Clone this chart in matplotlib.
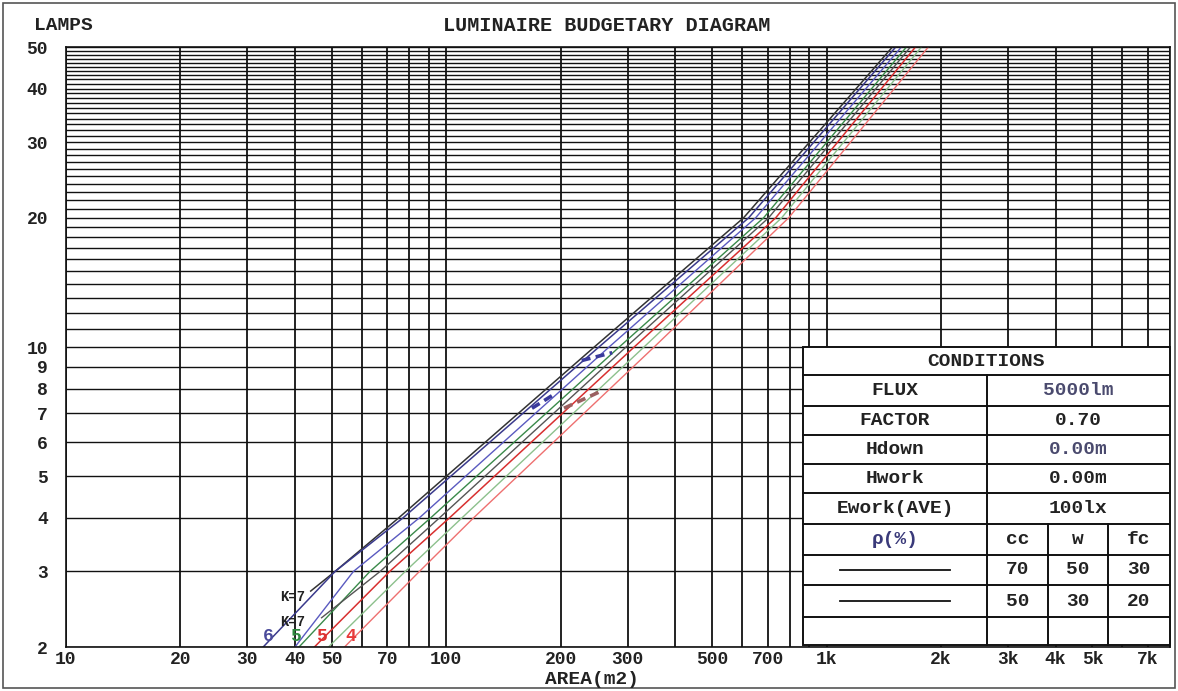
import numpy as np
import matplotlib.pyplot as plt
from matplotlib.patches import Rectangle
from matplotlib.ticker import FixedLocator, FixedFormatter, NullLocator

MONO = ['Liberation Mono', 'DejaVu Sans Mono']

# lamp count read at the points of each curve, and the area where each curve passes it
lamps_std = [2, 3, 4, 10, 20, 50]
area_black = [44, 51, 75, 245, 605, 1490]
lamps_black = [2.7, 3, 4, 10, 20, 50]
area_navy = [33, 51, 77, 252, 624, 1520]
area_blue = [40, 57, 85, 268, 651, 1573]
area_green = [41, 63, 91, 285, 683, 1622]
area_gray = [47, 67, 96, 297, 704, 1662]
lamps_gray = [2.34, 3, 4, 10, 20, 50]
area_red = [45, 71, 102, 312, 735, 1713]
area_lgreen = [49, 78, 110, 331, 762, 1776]
area_salmon = [54, 85, 118, 352, 795, 1852]

# short heavy dash marks printed over the curves
dash_navy_a = [[168, 194], [227, 273]]
dash_navy_n = [[7.2, 7.8], [9.3, 9.7]]
dash_brown_a = [204, 252]
dash_brown_n = [7.2, 7.85]

x_grid = [10, 20, 30, 40, 50, 60, 70, 80, 90,
          100, 200, 300, 400, 500, 600, 700, 800, 900,
          1000, 2000, 3000, 4000, 5000, 6000, 7000, 8000]
x_labels = {10: '10', 20: '20', 30: '30', 40: '40', 50: '50', 70: '70',
            100: '100', 200: '200', 300: '300', 500: '500', 700: '700',
            1000: '1k', 2000: '2k', 3000: '3k', 4000: '4k', 5000: '5k', 7000: '7k'}
y_grid = list(range(2, 51))
y_labels = [2, 3, 4, 5, 6, 7, 8, 9, 10, 20, 30, 40, 50]

# curve labels near the bottom: (text, area, lamps, colour)
curve_tags = [('6', 34, 2.12, '#4a4a9a'), ('5', 40, 2.12, '#2e8b3e'),
              ('5', 47, 2.12, '#dd3030'), ('4', 56, 2.12, '#e83a3a'),
              ('K=7', 39.5, 2.62, '#222222'), ('K=7', 39.5, 2.29, '#222222')]

cond_names = ['FLUX', 'FACTOR', 'Hdown', 'Hwork', 'Ework(AVE)']
cond_values = ['5000lm', '0.70', '0.00m', '0.00m', '100lx']
cond_colors = ['#4a4a6e', '#222222', '#4a4a6e', '#222222', '#222222']
refl_head = ['cc', 'w', 'fc']
refl_rows = [['70', '50', '30'], ['50', '30', '20']]

W, H = 1178, 691
fig = plt.figure(figsize=(W / 100, H / 100), dpi=100)
ax = fig.add_axes([66 / W, 44 / H, (1170 - 66) / W, 600 / H])
ax.set_xscale('log')
ax.set_yscale('log')
ax.set_xlim(10, 8000)
ax.set_ylim(2, 50)

ax.xaxis.set_major_locator(FixedLocator(x_grid))
ax.xaxis.set_major_formatter(FixedFormatter([x_labels.get(v, '') for v in x_grid]))
ax.xaxis.set_minor_locator(NullLocator())
ax.yaxis.set_major_locator(FixedLocator(y_grid))
ax.yaxis.set_major_formatter(FixedFormatter([str(v) if v in y_labels else '' for v in y_grid]))
ax.yaxis.set_minor_locator(NullLocator())
ax.tick_params(length=0, labelsize=13)
ax.tick_params(axis='x', pad=3)
ax.tick_params(axis='y', pad=13)
for lab in ax.get_xticklabels() + ax.get_yticklabels():
    lab.set_family(MONO)
    lab.set_fontweight('bold')
    lab.set_color('#222222')
ax.grid(True, which='major', axis='x', color='#111111', lw=1.3)
ax.grid(True, which='major', axis='y', color='#111111', lw=1.0)
for sp in ax.spines.values():
    sp.set_color('#111111')
    sp.set_linewidth(1.2)

ax.plot(area_black, lamps_black, color='#333333', lw=1.1)
ax.plot(area_navy, lamps_std, color='#3a3a8c', lw=1.1)
ax.plot(area_blue, lamps_std, color='#5a5ac0', lw=1.0)
ax.plot(area_green, lamps_std, color='#3a8a4a', lw=1.0)
ax.plot(area_gray, lamps_gray, color='#555555', lw=1.0)
ax.plot(area_red, lamps_std, color='#d83030', lw=1.1)
ax.plot(area_lgreen, lamps_std, color='#8cc08c', lw=1.0)
ax.plot(area_salmon, lamps_std, color='#ee7070', lw=1.0)

for a, n in zip(dash_navy_a, dash_navy_n):
    ax.plot(a, n, color='#3a3a9c', lw=2.6, ls=(0, (2.5, 1.5)))
ax.plot(dash_brown_a, dash_brown_n, color='#9a6060', lw=2.6, ls=(0, (2.5, 1.5)))

for txt, a, n, c in curve_tags:
    size = 10 if txt.startswith('K') else 13
    ax.text(a, n, txt, color=c, fontsize=size, fontweight='bold', family=MONO,
            ha='center', va='center')

# overlay in pixel space for frame, titles and the conditions table
ov = fig.add_axes([0, 0, 1, 1], facecolor='none')
ov.set_xlim(0, W)
ov.set_ylim(H, 0)
ov.axis('off')
ov.add_patch(Rectangle((3, 3), W - 6, H - 6, fill=False, ec='#555555', lw=1.2))
ov.text(63, 25, 'LAMPS', fontsize=14, fontweight='bold', family=MONO,
        ha='center', va='center', color='#222222')
ov.text(607, 25, 'LUMINAIRE BUDGETARY DIAGRAM', fontsize=14.5, fontweight='bold',
        family=MONO, ha='center', va='center', color='#222222')
ov.text(592, 680, 'AREA(m2)', fontsize=14, fontweight='bold', family=MONO,
        ha='center', va='center', color='#222222')

tl, tr = 803, 1170
c1, c2, c3 = 987, 1048, 1108
rows = [347, 375, 406, 435, 464, 493, 524, 555, 585, 617, 645]
ov.add_patch(Rectangle((tl, rows[0]), tr - tl, rows[-1] - rows[0],
                       fc='white', ec='#111111', lw=1.4, zorder=2))
for r in rows[1:-1]:
    ov.plot([tl, tr], [r, r], color='#111111', lw=1.4, zorder=3)
ov.plot([c1, c1], [rows[1], rows[-1]], color='#111111', lw=1.4, zorder=3)
for c in (c2, c3):
    ov.plot([c, c], [rows[6], rows[-1]], color='#111111', lw=1.4, zorder=3)

tkw = dict(fontsize=14, fontweight='bold', family=MONO, ha='center', va='center', zorder=4)
ov.text((tl + tr) / 2, (rows[0] + rows[1]) / 2, 'CONDITIONS', color='#222222', **tkw)
for i, (nm, val, col) in enumerate(zip(cond_names, cond_values, cond_colors)):
    yc = (rows[i + 1] + rows[i + 2]) / 2
    ov.text((tl + c1) / 2, yc, nm, color='#222222', **tkw)
    ov.text((c1 + tr) / 2, yc, val, color=col, **tkw)
cols_mid = [(c1 + c2) / 2, (c2 + c3) / 2, (c3 + tr) / 2]
yc = (rows[6] + rows[7]) / 2
ov.text((tl + c1) / 2, yc, '\u03c1(%)', color='#3a3a7a', **tkw)
for xm, h in zip(cols_mid, refl_head):
    ov.text(xm, yc, h, color='#222222', **tkw)
for j, row in enumerate(refl_rows):
    yc = (rows[7 + j] + rows[8 + j]) / 2
    ov.plot([840, 950], [yc, yc], color='#111111', lw=1.3, zorder=4)
    for xm, v in zip(cols_mid, row):
        ov.text(xm, yc, v, color='#222222', **tkw)

fig.savefig('out.png', dpi=100)
